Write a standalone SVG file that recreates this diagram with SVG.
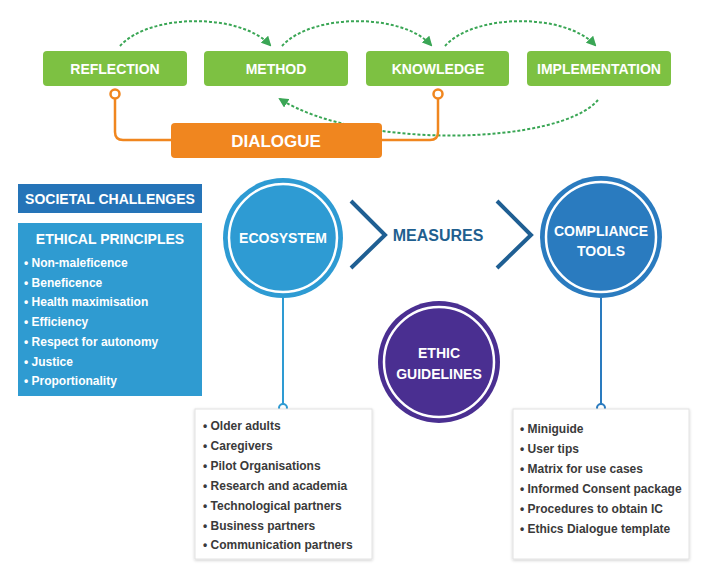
<svg xmlns="http://www.w3.org/2000/svg" width="704" height="578" viewBox="0 0 704 578">
<defs>
<style>
.g{fill:#7dc142}
.gt{font-family:"Liberation Sans",Arial,sans-serif;font-weight:bold;font-size:14px;fill:#fff;text-anchor:middle}
.dash{fill:none;stroke:#3aa655;stroke-width:2;stroke-dasharray:3 2}
.or{fill:none;stroke:#f0861f;stroke-width:2.5}
.ct{font-family:"Liberation Sans",Arial,sans-serif;font-weight:bold;font-size:14px;fill:#fff;text-anchor:middle}
.li{font-family:"Liberation Sans",Arial,sans-serif;font-weight:bold;font-size:12px;fill:#fff}
.lk{font-family:"Liberation Sans",Arial,sans-serif;font-weight:bold;font-size:12px;fill:#3a3a3a}
.box{fill:#fff;stroke:#e2e2e2;stroke-width:1}
.chev{fill:none;stroke:#1f5f93;stroke-width:4}
</style>
<marker id="ga" markerWidth="10" markerHeight="10" refX="8" refY="5" orient="auto" markerUnits="userSpaceOnUse">
<path d="M0,0 L10,5 L0,10 z" fill="#3aa655"/>
</marker>
<filter id="sh" x="-10%" y="-10%" width="120%" height="120%">
<feDropShadow dx="0" dy="1" stdDeviation="1.5" flood-color="#000" flood-opacity="0.2"/>
</filter>
</defs>
<rect width="704" height="578" fill="#fff"/>

<g id="connectors">
<path class="dash" d="M120,46 C150,13 240,13 270,45" marker-end="url(#ga)"/>
<path class="dash" d="M282,46 C312,13 402,13 431,45" marker-end="url(#ga)"/>
<path class="dash" d="M445,46 C475,13 565,13 595,45" marker-end="url(#ga)"/>
<path class="dash" d="M598,100 C560,145 360,150 280,99" marker-end="url(#ga)"/>
<path class="or" d="M115,98 V132 Q115,140 123,140 H172"/>
<circle cx="115" cy="94" r="4.5" fill="#fff" stroke="#f0861f" stroke-width="2.5"/>
<path class="or" d="M438,98 V132 Q438,140 430,140 H381"/>
<circle cx="438" cy="94" r="4.5" fill="#fff" stroke="#f0861f" stroke-width="2.5"/>
<line x1="283" y1="298" x2="283" y2="404" stroke="#2e9bd3" stroke-width="2"/>
<circle cx="283" cy="408" r="4" fill="#fff" stroke="#2e9bd3" stroke-width="2"/>
<line x1="601" y1="298" x2="601" y2="404" stroke="#2a7bbf" stroke-width="2"/>
<circle cx="601" cy="408" r="4" fill="#fff" stroke="#2a7bbf" stroke-width="2"/>
<polyline class="chev" points="351,201 385,235 351,268"/>
<polyline class="chev" points="497,201 531,235 497,268"/>
</g>

<g id="reflection"><rect class="g" x="43" y="51" width="144" height="35" rx="4"/><text class="gt" x="115" y="74">REFLECTION</text></g>
<g id="method"><rect class="g" x="204" y="51" width="144" height="35" rx="4"/><text class="gt" x="276" y="74">METHOD</text></g>
<g id="knowledge"><rect class="g" x="366" y="51" width="143" height="35" rx="4"/><text class="gt" x="438" y="74">KNOWLEDGE</text></g>
<g id="implementation"><rect class="g" x="527" y="51" width="144" height="35" rx="4"/><text class="gt" x="599" y="74">IMPLEMENTATION</text></g>
<g id="dialogue"><rect x="171" y="123" width="211" height="35" rx="4" fill="#f0861f"/><text class="gt" x="276" y="147" style="font-size:17px">DIALOGUE</text></g>

<g id="societal"><rect x="18" y="184" width="184" height="29" fill="#2574b8"/><text x="110" y="204" class="ct">SOCIETAL CHALLENGES</text></g>
<g id="ethical">
<rect x="18" y="223" width="184" height="173" fill="#2f9bd1"/>
<text x="110" y="244" class="ct">ETHICAL PRINCIPLES</text>
<text class="li" x="24" y="267">• Non-maleficence</text>
<text class="li" x="24" y="287">• Beneficence</text>
<text class="li" x="24" y="306">• Health maximisation</text>
<text class="li" x="24" y="326">• Efficiency</text>
<text class="li" x="24" y="346">• Respect for autonomy</text>
<text class="li" x="24" y="366">• Justice</text>
<text class="li" x="24" y="385">• Proportionality</text>
</g>

<g id="ecosystem"><circle cx="283" cy="238" r="60" fill="#2e9bd3"/><circle cx="283" cy="238" r="54" fill="none" stroke="#fff" stroke-width="2.5"/><text class="ct" x="283" y="243">ECOSYSTEM</text></g>
<g id="measures"><text x="438" y="241" font-family="Liberation Sans,Arial,sans-serif" font-weight="bold" font-size="16" fill="#1f5f8f" text-anchor="middle">MEASURES</text></g>
<g id="compliance"><circle cx="601" cy="237" r="61" fill="#2a7bbf"/><circle cx="601" cy="237" r="55" fill="none" stroke="#fff" stroke-width="2.5"/><text class="ct" x="601" y="236">COMPLIANCE</text><text class="ct" x="601" y="256">TOOLS</text></g>
<g id="ethic"><circle cx="439" cy="362" r="61" fill="#4a2f91"/><circle cx="439" cy="362" r="55" fill="none" stroke="#fff" stroke-width="2.5"/><text class="ct" x="439" y="358">ETHIC</text><text class="ct" x="439" y="379">GUIDELINES</text></g>

<g id="ecolist">
<rect class="box" x="195" y="409" width="177" height="150" filter="url(#sh)"/>
<text class="lk" x="203" y="430">• Older adults</text>
<text class="lk" x="203" y="450">• Caregivers</text>
<text class="lk" x="203" y="470">• Pilot Organisations</text>
<text class="lk" x="203" y="490">• Research and academia</text>
<text class="lk" x="203" y="510">• Technological partners</text>
<text class="lk" x="203" y="530">• Business partners</text>
<text class="lk" x="203" y="549">• Communication partners</text>
</g>
<g id="toollist">
<rect class="box" x="513" y="409" width="176" height="150" filter="url(#sh)"/>
<text class="lk" x="520" y="433">• Miniguide</text>
<text class="lk" x="520" y="453">• User tips</text>
<text class="lk" x="520" y="473">• Matrix for use cases</text>
<text class="lk" x="520" y="493">• Informed Consent package</text>
<text class="lk" x="520" y="513">• Procedures to obtain IC</text>
<text class="lk" x="520" y="533">• Ethics Dialogue template</text>
</g>
</svg>
